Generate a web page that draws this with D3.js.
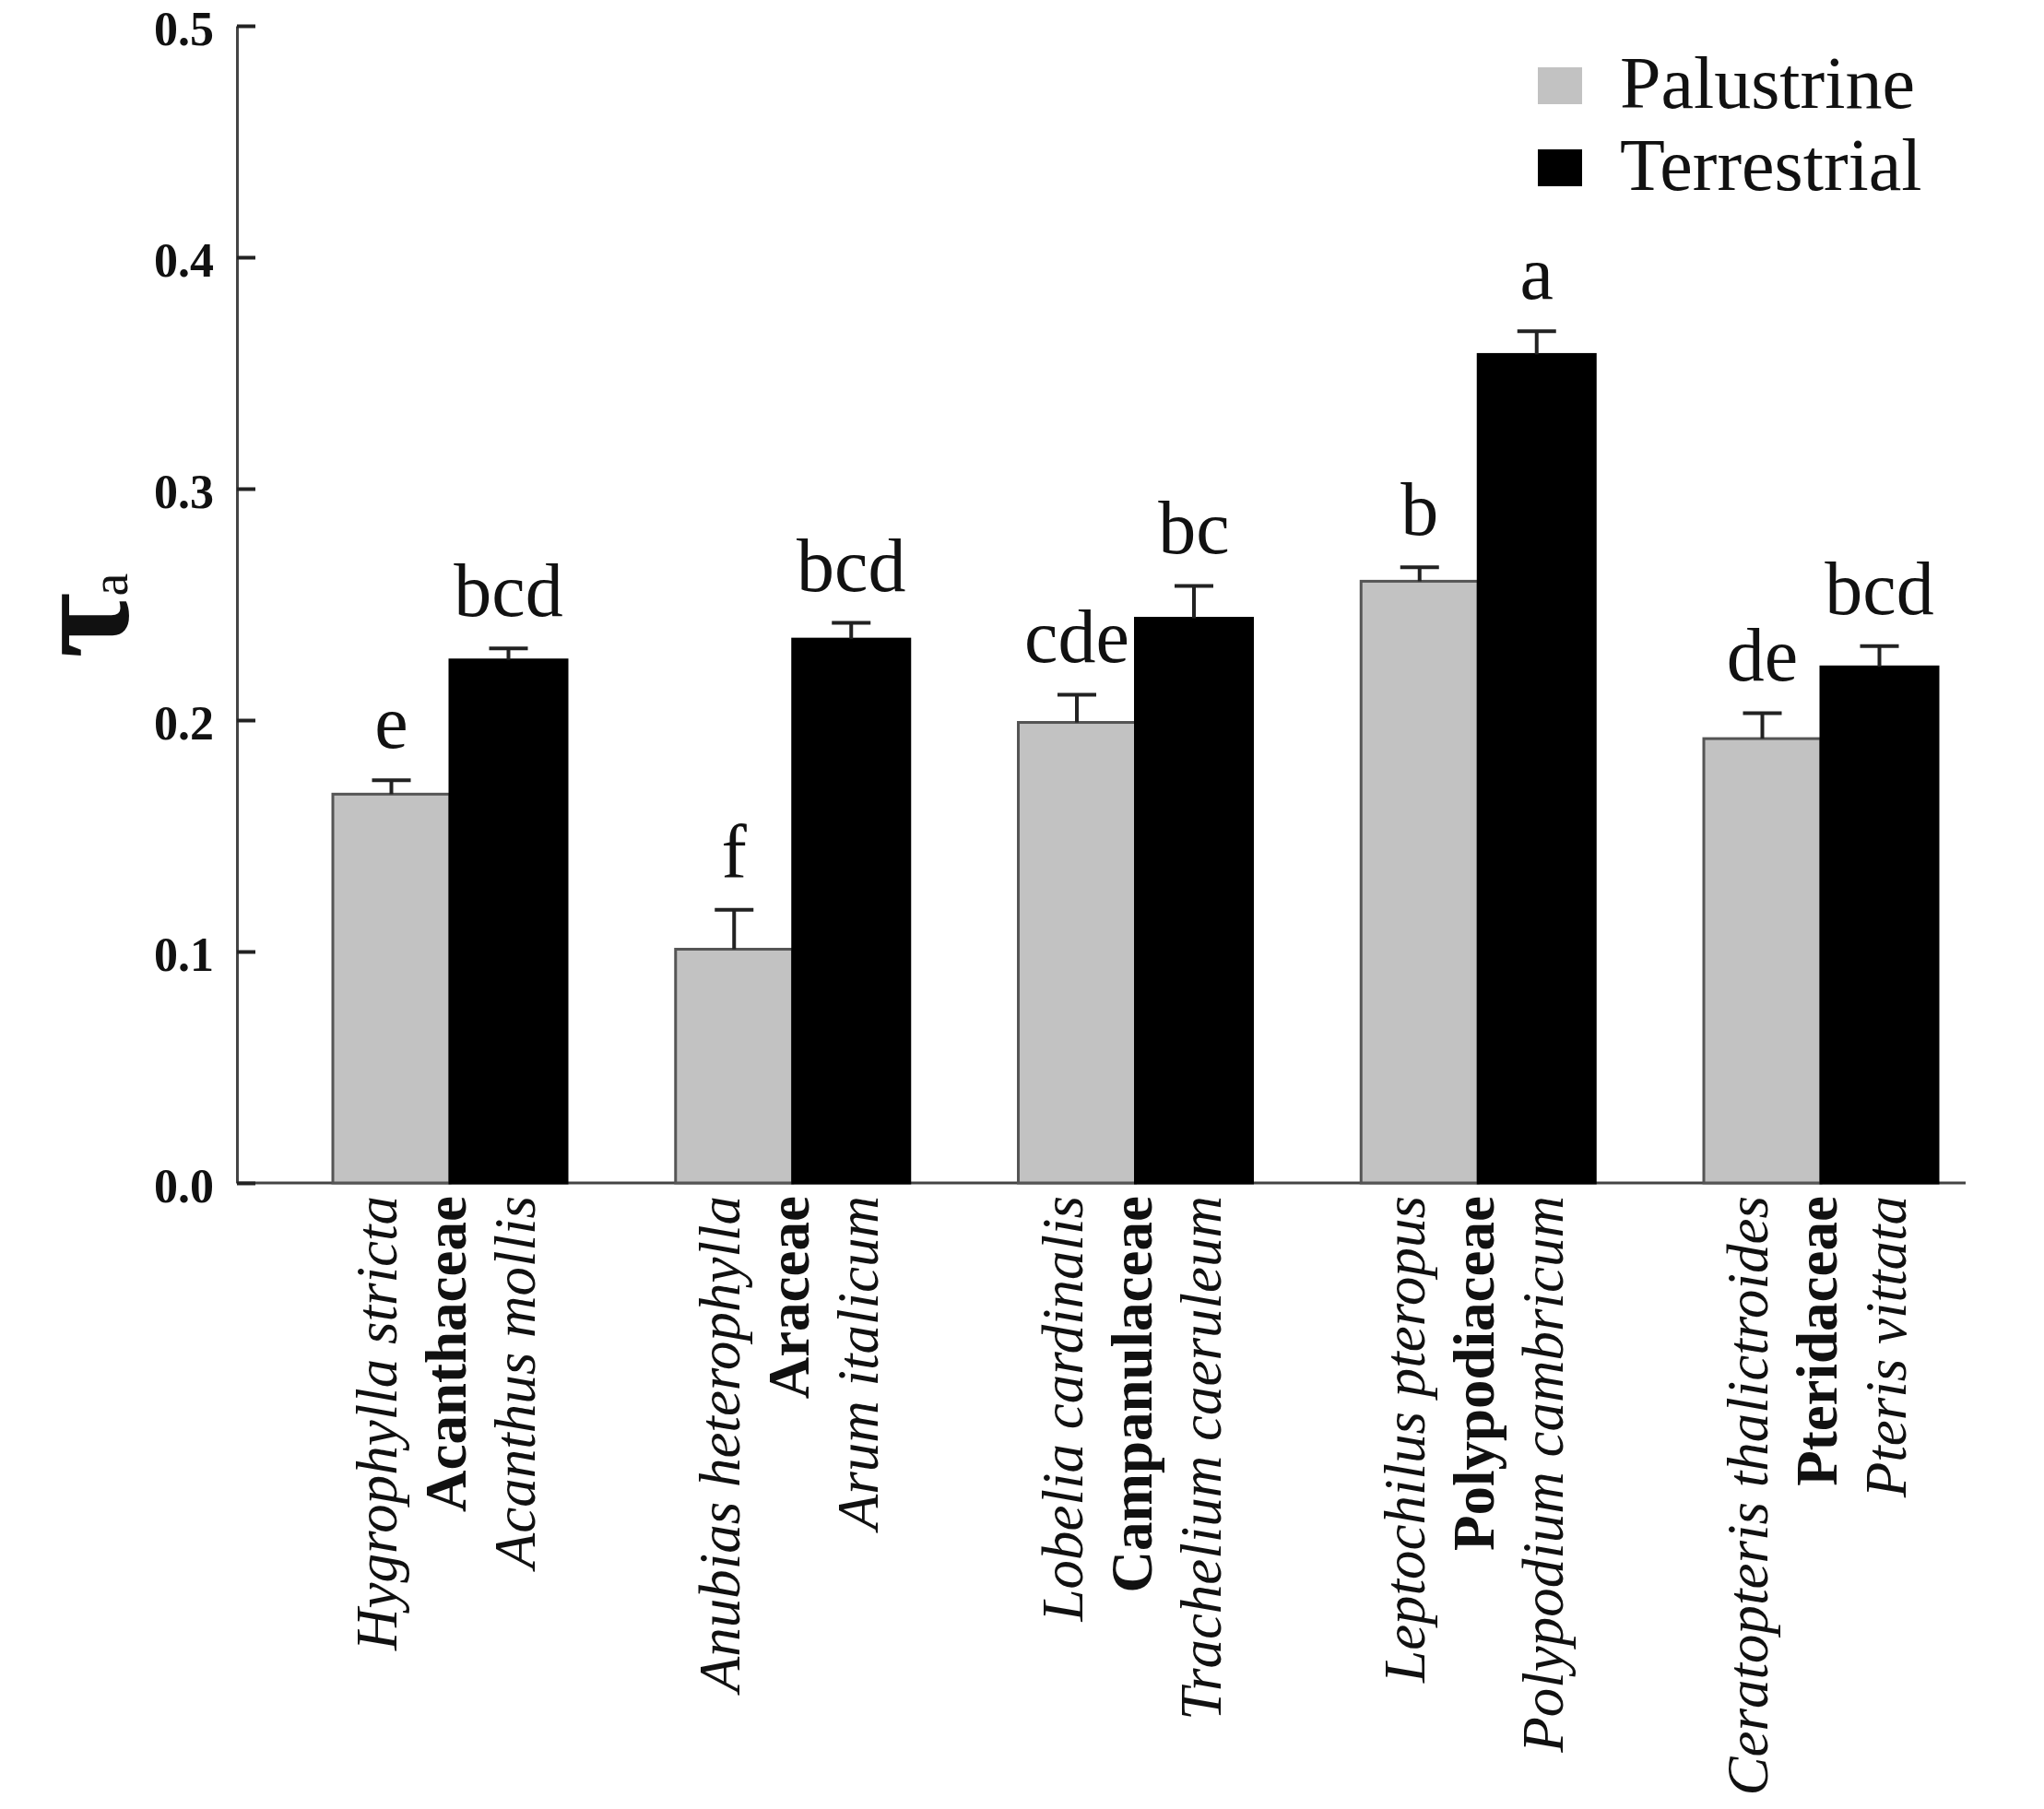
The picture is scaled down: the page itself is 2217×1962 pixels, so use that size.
<!DOCTYPE html>
<html><head><meta charset="utf-8">
<script src="https://cdn.jsdelivr.net/npm/d3@7"></script>
<style>body{margin:0;background:#fff}</style>
</head><body><svg id="c" width="2217" height="1962"></svg>
<script>
const families = ["Acanthaceae","Araceae","Campanulaceae","Polypodiaceae","Pteridaceae"];
const palustrineSpecies = ["Hygrophylla stricta","Anubias heterophylla","Lobelia cardinalis","Leptochilus pteropus","Ceratopteris thalictroides"];
const terrestrialSpecies = ["Acanthus mollis","Arum italicum","Trachelium caeruleum","Polypodium cambricum","Pteris vittata"];
const palustrine = [0.168,0.101,0.199,0.260,0.192];
const palustrineSE = [0.006,0.017,0.012,0.006,0.011];
const terrestrial = [0.226,0.235,0.244,0.358,0.223];
const terrestrialSE = [0.005,0.007,0.014,0.010,0.009];
const palustrineLetters = ["e","f","cde","b","de"];
const terrestrialLetters = ["bcd","bcd","bc","a","bcd"];
const yTicks = [0.0,0.1,0.2,0.3,0.4,0.5];
const seriesNames = ["Palustrine","Terrestrial"];
const seriesColors = ["#c2c2c2","#000000"];

const FONT = "'Liberation Serif','Times New Roman',serif";
const svg = d3.select("#c");
svg.append("rect").attr("width",2217).attr("height",1962).attr("fill","#fff");

const x = d3.scalePoint().domain(families).range([488,1975]);
const xs = d3.scaleBand().domain(seriesNames).range([-127,127]);
const y = d3.scaleLinear().domain([0,0.5]).range([1283,28]);
const color = d3.scaleOrdinal().domain(seriesNames).range(seriesColors);

const rows = [];
families.forEach((f,i)=>{
  rows.push({f, s:"Palustrine", v:palustrine[i], se:palustrineSE[i], L:palustrineLetters[i]});
  rows.push({f, s:"Terrestrial", v:terrestrial[i], se:terrestrialSE[i], L:terrestrialLetters[i]});
});

// x axis line
const axisLeftX = 257;
svg.append("line").attr("x1",axisLeftX).attr("x2",2132).attr("y1",y(0)).attr("y2",y(0))
  .attr("stroke","#444").attr("stroke-width",3);

// bars
svg.append("g").selectAll("rect").data(rows).join("rect")
  .attr("x",d=>x(d.f)+xs(d.s))
  .attr("width",xs.bandwidth())
  .attr("y",d=>y(d.v))
  .attr("height",d=>y(0)-y(d.v))
  .attr("fill",d=>color(d.s))
  .attr("stroke",d=>d.s==="Palustrine"?"#555":"#000")
  .attr("stroke-width",3);

// error bars
const eb = svg.append("g").attr("stroke","#222").attr("stroke-width",4);
rows.forEach(d=>{
  const cx = x(d.f)+xs(d.s)+xs.bandwidth()/2;
  eb.append("line").attr("x1",cx).attr("x2",cx).attr("y1",y(d.v)).attr("y2",y(d.v+d.se));
  eb.append("line").attr("x1",cx-21).attr("x2",cx+21).attr("y1",y(d.v+d.se)).attr("y2",y(d.v+d.se));
});

// letters
svg.append("g").selectAll("text").data(rows).join("text")
  .attr("x",d=>x(d.f)+xs(d.s)+xs.bandwidth()/2)
  .attr("y",d=>y(d.v+d.se)-35)
  .attr("text-anchor","middle")
  .attr("font-family",FONT).attr("font-size",82).attr("fill","#111")
  .text(d=>d.L);

// y axis
const yAxis = svg.append("g").attr("transform",`translate(${axisLeftX},0)`)
  .call(d3.axisLeft(y).tickValues(yTicks).tickFormat(d3.format(".1f"))
    .tickSizeInner(-20).tickSizeOuter(0).tickPadding(25));
yAxis.select(".domain").attr("stroke","#444").attr("stroke-width",3);
yAxis.selectAll(".tick line").attr("stroke","#222").attr("stroke-width",4);
yAxis.selectAll(".tick text").attr("font-family",FONT).attr("font-size",52)
  .attr("font-weight","bold").attr("fill","#111").attr("dy","0.4em");

// x labels
const labelTop = 1297;
const lab = svg.append("g");
families.forEach((f,i)=>{
  const lines = [
    {t:palustrineSpecies[i], dx:-58, style:"italic", weight:"normal"},
    {t:f, dx:17, style:"normal", weight:"bold"},
    {t:terrestrialSpecies[i], dx:92, style:"italic", weight:"normal"}
  ];
  lines.forEach(l=>{
    lab.append("text")
      .attr("transform",`translate(${x(f)+l.dx},${labelTop}) rotate(-90)`)
      .attr("text-anchor","end")
      .attr("font-family",FONT).attr("font-size",63)
      .attr("font-style",l.style).attr("font-weight",l.weight)
      .attr("fill","#111")
      .text(l.t);
  });
});

// y title
const yt = svg.append("text").attr("transform","translate(138,714) rotate(-90)")
  .attr("font-family",FONT).attr("fill","#111");
yt.append("tspan").attr("font-size",155).attr("font-weight","bold").text("τ");
yt.append("tspan").attr("font-size",56).attr("dx",-4).text("a");

// legend
const lg = svg.append("g");
seriesNames.forEach((s,i)=>{
  lg.append("rect").attr("x",1668).attr("y",73+i*89).attr("width",48).attr("height",40)
    .attr("fill",color(s));
  lg.append("text").attr("x",1757).attr("y",117+i*89)
    .attr("font-family",FONT).attr("font-size",80).attr("fill","#111").text(s);
});
</script>
</body></html>
